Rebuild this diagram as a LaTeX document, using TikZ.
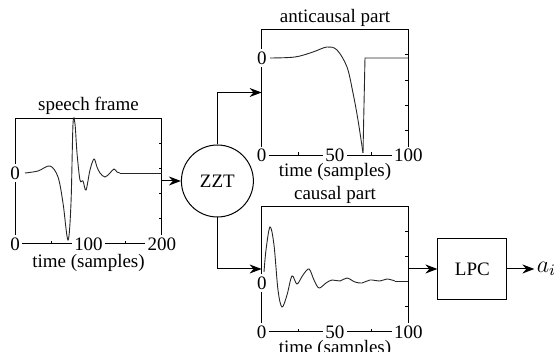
\documentclass[tikz,border=0pt]{standalone}
\usepackage{fontspec}
\setmainfont{Liberation Serif}
\usetikzlibrary{arrows.meta, positioning, calc}

\begin{document}
\begin{tikzpicture}[
    x=0.5pt, y=-0.5pt,
    font=\fontsize{9.5}{11}\selectfont,
    frame/.style={
        minimum width=73pt,
        minimum height=62.5pt,
        inner sep=0pt
    },
    ticklabel/.style={fill=white, inner sep=1.2pt},
    title/.style={inner sep=1pt},
    block/.style={
        draw,
        line width=0.5pt,
        minimum width=34.5pt,
        minimum height=30.5pt
    },
    wave/.style={line width=0.45pt, black!85},
    line/.style={draw, line width=0.5pt, -{Stealth[length=6pt, width=4.5pt]}}
]
\useasboundingbox (0,0) rectangle (554,352);

% plot areas
\node[frame] (speech) at (88.5,181) {};
\node[frame] (anti) at (335,92.5) {};
\node[frame] (causal) at (335,269) {};

\node[draw, circle, line width=0.5pt, minimum size=36pt, inner sep=0pt, right=9.5pt of speech] (zzt) {ZZT};
\node[block, right=14.5pt of causal] (lpc) {LPC};
\node[inner sep=1pt, right=13.5pt of lpc, font=\fontsize{12}{14}\selectfont] (ai) {$a_i$};

% frames and ticks
\foreach \p in {speech, anti, causal} {
    \draw[line width=0.5pt] (\p.south west) -- (\p.north west) -- (\p.north east) -- (\p.south east);
    \draw[line width=0.5pt] (\p.south west) -- (\p.south east);
    \foreach \f in {0.2, 0.4, 0.6, 0.8}
        \draw[line width=0.4pt] ($(\p.north east)!\f!(\p.south east)$) -- ++(-3,0);
    \foreach \f in {0.25, 0.75}
        \draw[line width=0.4pt] ($(\p.south west)!\f!(\p.south east)$) -- ++(0,-3);
}

% titles
\node[title] (speechtitle) at ([yshift=6pt]speech.north) {speech frame};
\node[title] (antititle) at ([yshift=6pt]anti.north) {anticausal part};
\node[title] (causaltitle) at ([yshift=5.5pt]causal.north) {causal part};

% axis labels
\node[ticklabel] (speechzero) at (15,173) {0};
\node[ticklabel] (speechxa) at (speech.south west) {0};
\node[ticklabel] (speechxb) at (speech.south) {100};
\node[ticklabel] (speechxc) at (speech.south east) {200};
\node[title] (speechtime) at ([yshift=-9.5pt]speech.south) {time (samples)};

\node[ticklabel] (antizero) at (262,58) {0};
\node[ticklabel] (antixa) at (anti.south west) {0};
\node[ticklabel] (antixb) at (anti.south) {50};
\node[ticklabel] (antixc) at (anti.south east) {100};
\node[title] (antitime) at ([yshift=-8.5pt]anti.south) {time (samples)};

\node[ticklabel] (causalzero) at (262,283) {0};
\node[ticklabel] (causalxa) at (causal.south west) {0};
\node[ticklabel] (causalxb) at (causal.south) {50};
\node[ticklabel] (causalxc) at (causal.south east) {100};
\node[title] (causaltime) at ([yshift=-8.3pt]causal.south) {time (samples)};

% waveforms
\draw[wave] plot[smooth, tension=0.55] coordinates {
    (25,173) (38,171) (50,166) (58,177) (63,203) (68,240) (71,203)
    (73,124) (75,124) (77,153) (80,180) (83,181) (86,190) (90,170)
    (94,159) (97,167) (100,173) (105,177) (110,173) (114,169) (117,172) (120,173)
};
\draw[wave] (120,173) -- (162,173);

\draw[wave] plot[smooth, tension=0.55] coordinates {
    (270,58) (295,57) (313,52) (327,47) (337,50) (347,67) (353,93)
    (358,120) (363,153)
};
\draw[wave] (363,153) -- (365,58) -- (408,58);

\draw[wave] plot[smooth, tension=0.55] coordinates {
    (264,272) (266,250) (270,227) (274,245) (278,290) (282,307) (287,295)
    (292,276) (297,284) (303,275) (309,269) (314,280) (319,288) (326,283)
    (332,280) (340,281) (347,278) (355,282) (362,283) (370,280) (380,281)
    (387,279) (395,281)
};
\draw[wave] (395,281) -- (408,281);

% connectors
\draw[line] (speech.east) -- (zzt.west);
\draw[line] (zzt.north) |- (anti.west);
\draw[line] (zzt.south) |- (causal.west);
\draw[line] (causal.east) -- (lpc.west);
\draw[line] (lpc.east) -- (ai.west);

\end{tikzpicture}
\end{document}
